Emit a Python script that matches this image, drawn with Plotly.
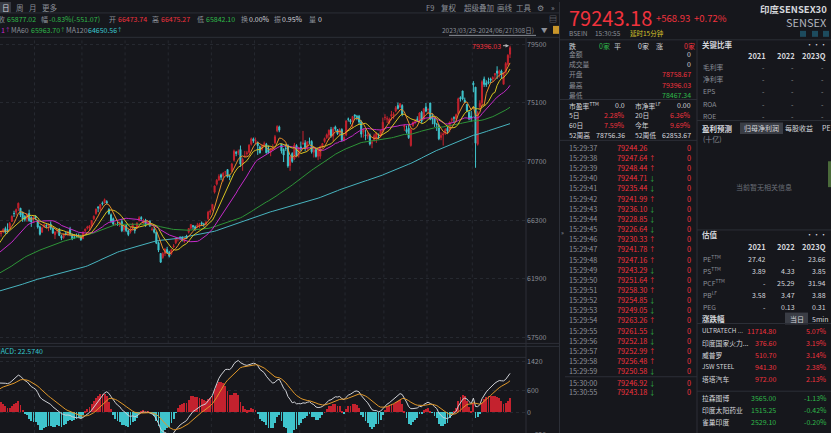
import numpy as np
import pandas as pd
import plotly.graph_objects as go

W, H = 831, 433
BG = "#16171c"
GRID = "#262930"
LINE = "#2c2f37"
GRAY = "#8b8f98"
LIGHT = "#d4d6db"
RED_TXT = "#f0323c"
GREEN_TXT = "#2fb84a"
UP = "#c4222e"
DOWN = "#3fc4cc"
FONT = "Noto Sans CJK SC"

# SENSEX daily closes before the visible window (2023-01-02 .. 2023-06-30), used for MA / MACD warm-up
hist_closes = [
    61168, 61294, 60657, 60353, 59900, 60747, 60115, 60105, 59958, 60261, 60092, 60656, 61045, 60858, 60621, 60941, 60978, 60205, 59330, 59500, 59550,
    59708, 59932, 60841, 60507, 60286, 60663, 60806, 60682, 60431, 61032, 61275, 61319, 61002, 60691, 60672, 59745, 59605, 59463, 59288, 58962,
    59411, 59136, 59809, 60224, 60348, 59806, 59135, 58237, 57900, 57556, 57635, 57990, 57629, 58075, 58214, 57925, 57527, 57653, 57614, 58000, 58992,
    59106, 59689, 59833, 60158, 60393, 60392, 60431, 59911, 59728, 59567, 59632, 59655, 60056, 60130, 60301, 60650, 61112,
    61354, 61193, 61749, 61054, 61764, 61761, 61940, 61904, 62027, 62345, 62028, 61560, 61431, 61729, 61963, 61981, 61773, 61872, 62501, 62846, 62969, 62622,
    62428, 62547, 62787, 62792, 63142, 62848, 62625, 62725, 63143, 63228, 62918, 63384, 63168, 63327, 63523, 63238, 62979, 62970, 63416, 63916, 64718,
]

# daily candles 2023-07-03 .. 2024-06-27
opens = [
    64836, 65300, 65540, 65470, 65760, 65300, 65450, 65670, 65600, 65700, 66200, 66800, 66900, 67200, 67200, 66900, 66600, 66400, 66800, 66500, 66400,
    66600, 66300, 65800, 65400, 65800, 65900, 65840, 66000, 65700, 65200, 65500, 65600, 65100, 65000, 65300, 65300, 65600, 65200, 65000, 65100, 65100, 65100,
    64900, 65500, 65700, 65700, 65900, 66400, 66800, 67300, 67150, 67600, 67600, 67700, 67100, 66700, 66400, 66000, 66000, 66000, 66200, 65600,
    65900, 65500, 65400, 65700, 65700, 65700, 66300, 66500, 66100, 66300, 66100, 66200, 65600, 65600, 65400, 64600, 63800, 63500, 63800, 64100,
    63900, 63800, 64300, 64600, 64900, 65000, 65000, 64700, 65100, 65400, 65700, 65900, 65800, 65800, 65900, 66100, 66000, 66000, 66400, 66900,
    67100, 68400, 69000, 69300, 69700, 69600, 69900, 70100, 69600, 70000, 70800, 71400, 71400, 71600, 70500, 71100, 71300, 71400, 72000, 72400,
    72200, 72100, 71800, 71600, 72000, 72000, 71600, 71400, 71700, 72100, 73000, 73300, 71998, 71600, 71700, 71900, 70400, 71300, 70900, 71900, 71200,
    71800, 72000, 72100, 71700, 72200, 72200, 71400, 71600, 71100, 71100, 71800, 72200, 72500, 72700, 73100, 72600, 73300, 73100, 72800, 73100, 72300,
    72700, 73900, 73800, 73700, 74200, 74100, 74100, 73700, 72900, 72700, 72600, 72700, 72100, 72300, 72400, 72500, 72600, 73000,
    74000, 73900, 73600, 74100, 74200, 74500, 74900, 74800, 74900, 73300, 73100, 73200, 71900, 73400, 73700, 73900, 73800, 74400, 73900, 74800,
    74600, 75100, 74000, 73900, 73500, 73400, 72500, 72700, 72800, 73200, 73100, 73800, 74000, 73900, 74300, 75500, 76000, 75300, 75000, 74400, 74100,
    76584, 76285, 72000, 74800, 75100, 76900, 76600, 76700, 76900, 76900, 77200, 77500, 77300, 77500, 76500, 77400, 78000, 78758.67,
]
highs = [
    65300, 65511, 65560, 65832, 65811, 65525, 65699, 65812, 66065, 66160, 66656, 67007, 67171, 67619, 67200, 66930, 66671, 66819, 67086, 66586, 66589,
    66658, 66300, 65893, 65813, 66056, 66000, 66047, 66200, 65700, 65470, 65600, 65700, 65200, 65300, 65450, 65500, 65800, 65300, 65250, 65300, 65300, 65200,
    65475, 65670, 65880, 65900, 66300, 66650, 67172, 67320, 67520, 67700, 67927, 67800, 67200, 66800, 66500, 66100, 66200, 66200, 66400, 65900,
    66000, 65600, 65800, 66100, 65700, 66150, 66600, 66600, 66400, 66400, 66300, 66300, 65800, 65800, 65400, 64700, 63800, 63900, 64200, 64300,
    64000, 64100, 64500, 65000, 65000, 65100, 65100, 65000, 65200, 65700, 66000, 65900, 65900, 66100, 66100, 66200, 66100, 66200, 67000, 67100,
    67500, 68900, 69381, 69744, 69800, 69900, 70000, 70100, 69700, 70600, 71600, 71500, 71600, 71900, 71000, 71500, 71500, 72000, 72500, 72500,
    72500, 72200, 71900, 72000, 72200, 72100, 71900, 71700, 72000, 72700, 73427, 73400, 72000, 71700, 72000, 72000, 71100, 71400, 72100, 72000, 71800,
    72200, 73000, 72300, 72200, 72500, 72300, 71700, 71700, 71600, 71900, 72100, 72500, 72800, 73100, 73300, 73300, 73400, 73100, 73200, 73200, 72700,
    73800, 74000, 73900, 74100, 74245, 74200, 74200, 73800, 73200, 73100, 72900, 72800, 72300, 72800, 72900, 72800, 73100, 74000,
    74254, 74100, 74000, 74500, 74400, 74870, 75124, 75105, 75000, 73500, 73400, 73500, 73200, 73700, 73900, 74100, 74400, 74500, 74700, 75100,
    74700, 75100, 74300, 74000, 73600, 73500, 72900, 72900, 73200, 73300, 73700, 74000, 74100, 74300, 75500, 75600, 76009, 75500, 75000, 74500, 74500,
    76738, 76285, 74500, 75300, 76800, 77079, 76800, 77000, 77000, 77100, 77300, 77851, 77600, 77600, 77400, 78164, 78759, 79396.03,
]
lows = [
    64836, 65157, 65311, 65347, 65198, 65059, 65327, 65281, 65304, 65539, 66195, 66536, 66657, 66985, 66534, 66170, 66200, 66178, 66182, 65795, 66114,
    66301, 65665, 65150, 65350, 65710, 65700, 65470, 65555, 65290, 64886, 65300, 65100, 64800, 64900, 65150, 65100, 65100, 64800, 64900, 65000, 64950, 64750,
    64900, 65400, 65600, 65500, 65800, 66300, 66700, 66900, 67000, 67400, 67550, 67500, 66700, 66100, 65950, 65900, 65900, 65800, 65400, 65400,
    65400, 65100, 65300, 65500, 65300, 65650, 66200, 66300, 66000, 65800, 66000, 65800, 65500, 65300, 64500, 63900, 63092, 63400, 63600, 63800,
    63500, 63700, 64200, 64500, 64700, 64800, 64700, 64600, 64900, 65300, 65600, 65600, 65500, 65700, 65700, 65900, 65800, 65900, 66300, 66700,
    67000, 68300, 68900, 69300, 69300, 69200, 69700, 69500, 69300, 69900, 70700, 71100, 71200, 70300, 70000, 71000, 71100, 71300, 71900, 72100,
    72000, 71200, 71300, 71500, 71800, 71300, 71300, 71100, 71500, 72000, 72900, 72900, 71300, 70665, 71500, 70234, 70000, 70600, 70800, 71100, 71000,
    71500, 72000, 71500, 71500, 72000, 71300, 71000, 71000, 70800, 70900, 71700, 72100, 72400, 72300, 72500, 72200, 73000, 72700, 72600, 72200, 72200,
    72600, 73700, 73500, 73200, 73900, 73800, 73500, 72500, 72500, 72300, 72400, 71900, 71700, 72200, 72100, 72400, 72500, 72900,
    73800, 73600, 73500, 73800, 73900, 74400, 74600, 74700, 74100, 73000, 72800, 72400, 71816, 73300, 73500, 73700, 73600, 73600, 73800, 74400,
    74300, 73800, 73500, 73300, 73000, 72300, 72300, 71900, 72700, 72800, 72900, 73600, 73600, 73700, 74200, 75200, 75300, 75100, 74400, 73800, 73700,
    75900, 70234, 71900, 74600, 74900, 76300, 76300, 76500, 76600, 76700, 76900, 76900, 77000, 76900, 76500, 77300, 77900, 78467.34,
]
closes = [
    65205, 65479, 65446, 65785, 65280, 65344, 65617, 65394, 65558, 66060, 66589, 66795, 67097, 67571, 66684, 66385, 66355, 66707, 66266, 66160, 66527,
    66459, 65782, 65240, 65721, 65953, 65846, 65996, 65688, 65322, 65402, 65539, 65151, 64949, 65216, 65220, 65433, 65252, 64887, 64996, 65076, 65087, 64831,
    65387, 65628, 65780, 65880, 66265, 66599, 67127, 67221, 67467, 67519, 67839, 67597, 66801, 66230, 66009, 66024, 65945, 66119, 65508, 65828,
    65512, 65226, 65632, 65996, 65512, 66079, 66474, 66409, 66283, 65928, 66167, 65877, 65629, 65397, 64572, 64049, 63148, 63783, 64113, 63875,
    63591, 64081, 64364, 64959, 64942, 64976, 64832, 64905, 64934, 65676, 65982, 65795, 65655, 65931, 66023, 66018, 65970, 66174, 66902, 66988,
    67481, 68865, 69296, 69584, 69522, 69826, 69929, 69551, 69585, 70514, 71484, 71316, 71437, 70506, 70865, 71107, 71337, 71931, 72410, 72240,
    72272, 71892, 71357, 71848, 72026, 71356, 71386, 71658, 71721, 72568, 73328, 73058, 71501, 71187, 71683, 70370, 71060, 70701, 71942, 71140, 71752,
    71645, 72085, 71731, 72186, 72152, 71428, 71595, 71072, 71555, 71823, 72050, 72426, 72708, 73057, 72623, 73158, 73142, 72790, 73095, 72305, 72500,
    73745, 73872, 73677, 74085, 74119, 74005, 73668, 72762, 73097, 72643, 72748, 72012, 72102, 72641, 72832, 72470, 72996, 73651,
    74015, 73904, 73877, 74228, 74248, 74743, 74684, 75038, 74245, 73400, 72944, 72489, 73088, 73649, 73738, 73852, 74339, 73730, 74671, 74483,
    74611, 73878, 73896, 73511, 73467, 72404, 72664, 72776, 73105, 72987, 73663, 73917, 73953, 74221, 75418, 75410, 75391, 75170, 74503, 73886, 73961,
    76469, 72079, 74382, 75075, 76693, 76490, 76457, 76607, 76811, 76993, 77301, 77337, 77478, 77210, 77341, 78053, 78674, 79243.18,
]

holidays = [
    "2023-01-26", "2023-03-07", "2023-03-30", "2023-04-04", "2023-04-07", "2023-04-14", "2023-05-01", "2023-06-29",
    "2023-08-15", "2023-09-19", "2023-10-02", "2023-10-24", "2023-11-14", "2023-11-27", "2023-12-25",
    "2024-01-22", "2024-01-26", "2024-03-08", "2024-03-25", "2024-03-29", "2024-04-11", "2024-04-17",
    "2024-05-01", "2024-05-20", "2024-06-17",
]

price_ticks = [79500, 75100, 70700, 66300, 61900, 57500]
macd_ticks = [1420, 600, 0]

tick_times = ["15:29:37", "15:29:38", "15:29:39", "15:29:40", "15:29:41", "15:29:42", "15:29:43", "15:29:44",
              "15:29:45", "15:29:46", "15:29:47", "15:29:48", "15:29:49", "15:29:50", "15:29:51", "15:29:52",
              "15:29:53", "15:29:54", "15:29:55", "15:29:56", "15:29:57", "15:29:58", "15:29:59", "15:30:00", "15:30:55"]
tick_prices = [79244.26, 79247.64, 79248.44, 79244.71, 79235.44, 79241.99, 79236.10, 79228.85,
               79226.64, 79230.33, 79241.78, 79247.16, 79243.29, 79251.64, 79258.30, 79254.85,
               79249.05, 79263.26, 79261.55, 79252.18, 79252.99, 79256.48, 79250.58, 79246.92, 79243.18]

years = ["2021", "2022", "2023Q"]
ratio_names = ["毛利率", "净利率", "EPS", "ROA", "ROE"]
val_names = ["PE<sup>TTM</sup>", "PS<sup>TTM</sup>", "PCF<sup>TTM</sup>", "PB<sup>LF</sup>", "PEG"]
val_values = [["27.42", "-", "23.66"], ["3.89", "4.33", "3.85"], ["-", "25.29", "31.94"],
              ["3.58", "3.47", "3.88"], ["-", "0.13", "0.31"]]
mover_names = ["ULTRATECH ...", "印度国家火力...", "威普罗", "JSW STEEL", "塔塔汽车", "拉森图博", "印度太阳药业", "雀巢印度"]
mover_prices = ["11714.80", "376.60", "510.70", "941.30", "972.00", "3565.00", "1515.25", "2529.10"]
mover_pcts = ["5.07%", "3.19%", "3.14%", "2.38%", "2.13%", "-1.13%", "-0.42%", "-0.20%"]

# ---- indicators
full_close = pd.Series(hist_closes + closes, dtype=float)
n0 = len(hist_closes)
x_all = np.arange(len(full_close))
x_vis = x_all[n0:]

days = pd.bdate_range("2023-01-02", "2024-06-27")
days = days[~days.isin(pd.to_datetime(holidays))]
month_idx = []
if len(days) == len(full_close):
    month_idx = [i for i in range(1, len(days)) if days[i].month != days[i - 1].month]

ma_colors = {5: "#e8902c", 10: "#d8c422", 20: "#c42bc9", 60: "#2e9438", 120: "#48b4bf"}
mas = {n: full_close.rolling(n).mean() for n in ma_colors}

ema12 = full_close.ewm(span=12, adjust=False).mean()
ema26 = full_close.ewm(span=26, adjust=False).mean()
dif = ema12 - ema26
dea = dif.ewm(span=9, adjust=False).mean()
hist = 2 * (dif - dea)

X_RANGE = [126.5, 370.4]


def px(x):
    return x / W


def py(y):
    return 1 - y / H


fig = go.Figure()

fig.add_trace(go.Candlestick(
    x=x_vis, open=opens, high=highs, low=lows, close=closes,
    increasing=dict(line=dict(color=UP, width=1), fillcolor=UP),
    decreasing=dict(line=dict(color=DOWN, width=1), fillcolor=DOWN),
    whiskerwidth=0, xaxis="x", yaxis="y", showlegend=False, hoverinfo="skip",
))
for n in [120, 60, 20, 10, 5]:
    fig.add_trace(go.Scatter(x=x_all[n0 - 10:], y=mas[n][n0 - 10:], mode="lines",
                             line=dict(color=ma_colors[n], width=1), xaxis="x", yaxis="y",
                             showlegend=False, hoverinfo="skip"))

fig.add_trace(go.Bar(x=x_all[n0 - 10:], y=hist[n0 - 10:], width=0.4,
                     marker=dict(color=[UP if v >= 0 else DOWN for v in hist[n0 - 10:]], line=dict(width=0)),
                     xaxis="x2", yaxis="y2", showlegend=False, hoverinfo="skip"))
fig.add_trace(go.Scatter(x=x_all[n0 - 10:], y=dif[n0 - 10:], mode="lines", line=dict(color="#cfd1d6", width=1),
                         xaxis="x2", yaxis="y2", showlegend=False, hoverinfo="skip"))
fig.add_trace(go.Scatter(x=x_all[n0 - 10:], y=dea[n0 - 10:], mode="lines", line=dict(color="#e0982a", width=1),
                         xaxis="x2", yaxis="y2", showlegend=False, hoverinfo="skip"))

shapes = []


def hline(y, x0, x1, color=LINE):
    shapes.append(dict(type="line", xref="paper", yref="paper", x0=px(x0), x1=px(x1), y0=py(y), y1=py(y),
                       line=dict(color=color, width=1)))


def vline(x, y0, y1, color=LINE):
    shapes.append(dict(type="line", xref="paper", yref="paper", x0=px(x), x1=px(x), y0=py(y0), y1=py(y1),
                       line=dict(color=color, width=1)))


def box(x0, y0, x1, y1, color):
    shapes.append(dict(type="rect", xref="paper", yref="paper", x0=px(x0), x1=px(x1), y0=py(y1), y1=py(y0),
                       fillcolor=color, line=dict(width=0), layer="below"))


# month separators
for i in month_idx:
    if X_RANGE[0] < i - 0.5 < X_RANGE[1]:
        for a, b in ((0.2079, 0.9145), (0, 0.1755)):
            shapes.append(dict(type="line", xref="x", yref="paper", x0=i - 0.5, x1=i - 0.5, y0=a, y1=b,
                               line=dict(color=GRID, width=1, dash="dot"), layer="below"))

# panel frames
hline(11, 0, 559)
hline(35.5, 0, 559)
hline(343, 0, 559)
hline(346, 0, 559)
hline(357, 0, 526)
vline(526, 36, 433)
vline(559.5, 0, 433)
hline(38, 560, 831)
hline(98, 560, 697)
hline(139, 560, 697)
hline(376.5, 565, 697)
vline(697, 38, 433)
hline(119, 697, 831)
hline(229, 697, 831)
hline(323, 697, 831)
hline(391, 697, 831)
box(0, 0, 11, 11, "#363941")
box(740, 121, 783, 132.5, "#3a3d45")
box(785, 312, 808, 324, "#3a3d45")
box(553, 24, 559, 32, "#c9962a")
hline(33.5, 449, 536, GRAY)
for bx in (800, 812, 823):
    box(bx, 29, bx + 6, 35, "#1d4b5e")

anns = []


def T(x, y, s, color=GRAY, size=7, anchor="left", bold=False):
    anns.append(dict(x=px(x), y=py(y), xref="paper", yref="paper", text=f"<b>{s}</b>" if bold else s,
                     showarrow=False, xanchor=anchor, yanchor="middle",
                     font=dict(size=size, color=color, family=FONT)))


# toolbar
for x, s in ((5.5, "日"), (20, "周"), (33, "月"), (50, "更多"), (430, "F9"), (449, "复权"),
             (479, "超级叠加"), (505, "画线"), (524, "工具"), (540, "⚙"), (553, "»")):
    T(x, 5.5, s, LIGHT if s == "日" else GRAY, 7.5, "center")

row2 = [("收", -4, GRAY), ("65877.02", 5, GREEN_TXT), ("幅", 39, GRAY), ("-0.83%(-551.07)", 47, GREEN_TXT),
        ("开", 107, GRAY), ("66473.74", 116, RED_TXT), ("高", 150, GRAY), ("66475.27", 159, RED_TXT),
        ("低", 195, GRAY), ("65842.10", 204, GREEN_TXT), ("换", 239, GRAY), ("0.00%", 247, LIGHT),
        ("振", 272, GRAY), ("0.95%", 280, LIGHT), ("量", 307, GRAY), ("0", 316, LIGHT)]
for s, x, c in row2:
    T(x, 17, s, c, 7)
T(553, 17, "▤", GRAY, 8, "center")

T(-1, 28, "1", "#c42bc9", 7)
T(3, 28, "↑", "#c42bc9", 5.5)
T(9, 28, "MA60", GRAY, 7)
T(29, 28, "65963.70", GREEN_TXT, 7)
T(58, 28, "↑", GREEN_TXT, 5.5)
T(64, 28, "MA120", GRAY, 7)
T(86, 28, "64650.56", "#3cc8cf", 7)
T(115, 28, "↑", "#3cc8cf", 5.5)
T(536, 28, "2023/03/29-2024/06/27(308日)", GRAY, 6.5, "right")
T(544, 28, "▼", GRAY, 6.5, "center")

T(-7, 350.5, "MACD: 22.5740", "#35c6cf", 7)

# last high marker
anns.append(dict(x=x_vis[-1], y=highs[-1], xref="x", yref="y", text="79396.03", showarrow=True,
                 ax=-7, ay=0, xanchor="right", arrowcolor="#b5b5b5", arrowhead=2, arrowsize=0.7,
                 arrowwidth=1, standoff=1, font=dict(size=7, color=RED_TXT, family=FONT)))

# quote header
T(567, 16, "79243.18", RED_TXT, 20)
T(654, 16, "+568.93", RED_TXT, 9.5)
T(692, 16, "+0.72%", RED_TXT, 9.5)
T(829, 7, "<b>印度SENSEX30</b>", LIGHT, 9.5, "right")
T(829, 20.5, "SENSEX", "#b2b5bc", 11, "right")
T(567, 31, "BSEIN", GRAY, 6.5)
T(593, 31, "15:30:55", GRAY, 6.5)
T(628, 31, "延时15分钟", "#d7c42a", 6.5)

T(567, 44, "跌", LIGHT, 7)
T(597, 44, "0家", GREEN_TXT, 7)
T(612, 44, "平", LIGHT, 7)
T(636, 44, "0家", LIGHT, 7)
T(654, 44, "涨", LIGHT, 7)
T(682, 44, "0家", RED_TXT, 7)

for y, lab, val, col in ((52.5, "金额", "0", LIGHT), (62.5, "成交量", "0", LIGHT), (72.7, "开盘", "78758.67", RED_TXT),
                         (83, "最高", "79396.03", RED_TXT), (93.3, "最低", "78467.34", GREEN_TXT)):
    T(567, y, lab, GRAY, 6.8)
    T(693, y, val, col, 7, "right")

stats = [(103.7, "市盈率<sup>TTM</sup>", "0.0", LIGHT, "市净率<sup>LF</sup>", "0.00", LIGHT),
         (114, "5日", "2.28%", RED_TXT, "20日", "6.36%", RED_TXT),
         (124, "60日", "7.59%", RED_TXT, "今年", "9.69%", RED_TXT),
         (134, "52周高", "78756.36", LIGHT, "52周低", "62853.67", LIGHT)]
for y, l1, v1, c1, l2, v2, c2 in stats:
    T(567, y, l1, LIGHT, 6.8)
    T(627, y, v1, c1, 7, "right")
    T(633, y, l2, LIGHT, 6.8)
    T(693, y, v2, c2, 7, "right")

for i, (t, p) in enumerate(zip(tick_times, tick_prices)):
    y = 146.5 + i * 10.2 if i < 23 else (382.3 if i == 23 else 392.3)
    T(567, y, t, GRAY, 7.3)
    T(615, y, f"{p:.2f}", RED_TXT, 7.3)
    if i > 0:
        up = p > tick_prices[i - 1]
        T(652, y, "↑" if up else "↓", RED_TXT if up else GREEN_TXT, 6.5, "center")
    T(693, y, "0", RED_TXT, 7.3, "right")
T(562, 232, "»", GRAY, 6, "center")

# key ratios
T(700, 43, "<b>关键比率</b>", LIGHT, 7.5)
T(829, 42, "•••", LIGHT, 7, "right")
for x, yr in zip((768, 797, 828), years):
    T(x, 53.3, f"<b>{yr}</b>", LIGHT, 7.5, "right")
for k, name in enumerate(ratio_names):
    y = 65 + k * 12.4
    T(701, y, name, GRAY, 6.8)
    for x in (767, 796, 826):
        T(x, y, "-", GRAY, 7, "right")

T(700, 126.7, "<b>盈利预测</b>", LIGHT, 7.5)
T(761.5, 126.7, "归母净利润", LIGHT, 7, "center")
T(798.5, 126.7, "每股收益", LIGHT, 7, "center")
T(820, 126.7, "PE", LIGHT, 7)
T(701, 137.7, "(十亿)", GRAY, 7)
T(764, 185.7, "当前暂无相关信息", "#6b6f78", 7, "center")
box(828, 160, 831, 186, "#4a6a3a")

# valuation
T(700, 234, "<b>估值</b>", LIGHT, 7.5)
T(829, 233, "•••", LIGHT, 7, "right")
for x, yr in zip((768, 797, 828), years):
    T(x, 246, f"<b>{yr}</b>", LIGHT, 7.5, "right")
for k, (name, vals) in enumerate(zip(val_names, val_values)):
    y = 258 + k * 12
    T(701, y, name, GRAY, 6.8)
    for x, v in zip((768, 797, 828), vals):
        T(x, y, v, LIGHT, 7, "right")

T(700, 318.3, "<b>涨跌幅</b>", LIGHT, 7.5)
T(796.5, 318.3, "当日", LIGHT, 7, "center")
T(820, 318.3, "5min", LIGHT, 7, "center")
for k, (name, pr, pc) in enumerate(zip(mover_names, mover_prices, mover_pcts)):
    y = 330.3 + k * 12 if k < 5 else 398 + (k - 5) * 12
    col = GREEN_TXT if pc.startswith("-") else RED_TXT
    T(700, y, name, LIGHT, 6.3 if name.isascii() else 6.8)
    T(778, y, pr, col, 7, "right")
    T(829, y, pc, col, 7, "right")

T(530, 434, "-620", GRAY, 7)

fig.update_layout(
    width=W, height=H, margin=dict(l=0, r=0, t=0, b=0), autosize=False,
    paper_bgcolor=BG, plot_bgcolor=BG, showlegend=False, bargap=0,
    font=dict(family=FONT, size=7, color=GRAY),
    shapes=shapes, annotations=anns,
    xaxis=dict(domain=[0, 526 / W], range=X_RANGE, showticklabels=False, showgrid=False, zeroline=False,
               rangeslider=dict(visible=False), anchor="y", fixedrange=True),
    xaxis2=dict(domain=[0, 526 / W], range=X_RANGE, matches="x", showticklabels=False, showgrid=False,
                zeroline=False, anchor="y2"),
    yaxis=dict(domain=[0.2079, 0.9145], range=[57050, 79910], side="right", tickvals=price_ticks,
               ticktext=[str(v) for v in price_ticks], showgrid=True, gridcolor=GRID, griddash="dot",
               zeroline=False, tickfont=dict(size=7, color=GRAY), anchor="x"),
    yaxis2=dict(domain=[0, 0.1755], range=[-565, 1530], side="right", tickvals=macd_ticks,
                ticktext=[str(v) for v in macd_ticks], showgrid=True, gridcolor=GRID, griddash="dot",
                zeroline=False, tickfont=dict(size=7, color=GRAY), anchor="x2"),
)

fig.write_html("out.html", config={"displayModeBar": False},
               post_script="document.body.style.margin='0';document.body.style.overflow='hidden';")
